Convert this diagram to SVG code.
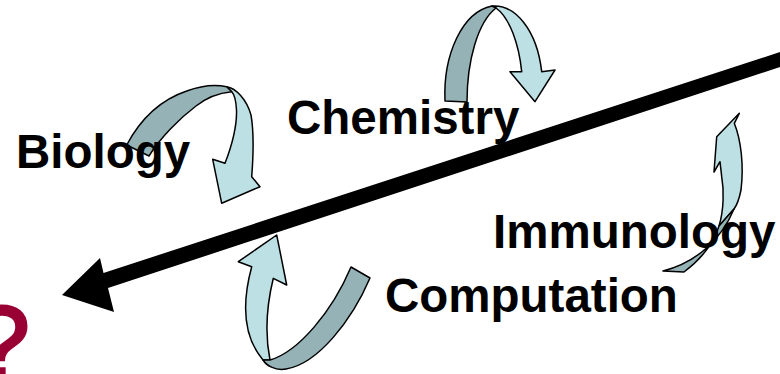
<svg xmlns="http://www.w3.org/2000/svg" width="780" height="374" viewBox="0 0 780 374">
<style>
.lt{fill:#BDE0E4;stroke:#000;stroke-width:1.5;stroke-linejoin:round}
.dk{fill:#95B3B7;stroke:#000;stroke-width:1.5;stroke-linejoin:round}
.lbl{font-family:"Liberation Sans",Arial,sans-serif;font-weight:bold;font-size:47.5px;fill:#000}
</style>
<rect width="780" height="374" fill="#fff"/>
<g id="connectors">
<polygon id="main-arrow" fill="#000" points="62,295 100,258 103.5,273 780,52 780,67 108,288 114,312"/>
</g>
<g id="arrow-biology">
<path class="lt" d="M226.7,86.7 C236,88 247,100 251,115 C254,132 253,160 251.7,176.7 L260,186.7 L221.7,203.3 L212.7,159.3 L225,163.3 C232,145 237,125 236.5,110 C236,100 234,94 231.7,91.7 Z"/>
<path class="dk" d="M126.7,145 C140,120 160,100 186.7,91 C200,86 214,84 226.7,86.7 L231.7,91.7 C218,93 206,98 196,106 C180,118 160,138 149,156 Z"/>
</g>
<g id="arrow-chemistry">
<path class="lt" d="M492,6 C515,4 537,30 541.7,71.7 L555,70 L535,101.7 L510,71.7 L521.7,71.7 C519,45 510,18 496,8 Z"/>
<path class="dk" d="M445,101 C443,55 462,12 492,6 L496,8 C478,22 467,60 467,102 Z"/>
</g>
<g id="arrow-immunology">
<path class="lt" d="M739.3,113.3 L734.3,123.3 C741,140 744,165 741,190 C739,200 737,205 734,209 L719,226 C724,210 724,190 721.7,176.7 L720,161.7 L714,172 L716.7,136.7 Z"/>
<path class="dk" d="M734,209 C722,238 698,262 663,271 L684,272 C700,260 713,245 719,226 Z"/>
</g>
<g id="arrow-computation">
<path class="lt" d="M276.7,235 L286.7,285 L273.3,278.3 C268,300 264,330 270,360 L263,360 C246,340 240,310 251.7,266.7 L238.3,261.7 Z"/>
<path class="dk" d="M351,267 L370,278 C352,320 318,364 286,369 C275,371 266,365 263,360 L270,360 C298,352 332,312 351,267 Z"/>
</g>
<g id="label-biology"><text class="lbl" x="16" y="168">Biology</text></g>
<g id="label-chemistry"><text class="lbl" x="287" y="134">Chemistry</text></g>
<g id="label-immunology"><text class="lbl" x="493" y="248">Immunology</text></g>
<g id="label-computation"><text class="lbl" x="385" y="312">Computation</text></g>
<g id="question"><text x="-28" y="379" font-family="Liberation Sans,Arial,sans-serif" font-size="104" fill="#990033" stroke="#990033" stroke-width="3">?</text></g>
</svg>
